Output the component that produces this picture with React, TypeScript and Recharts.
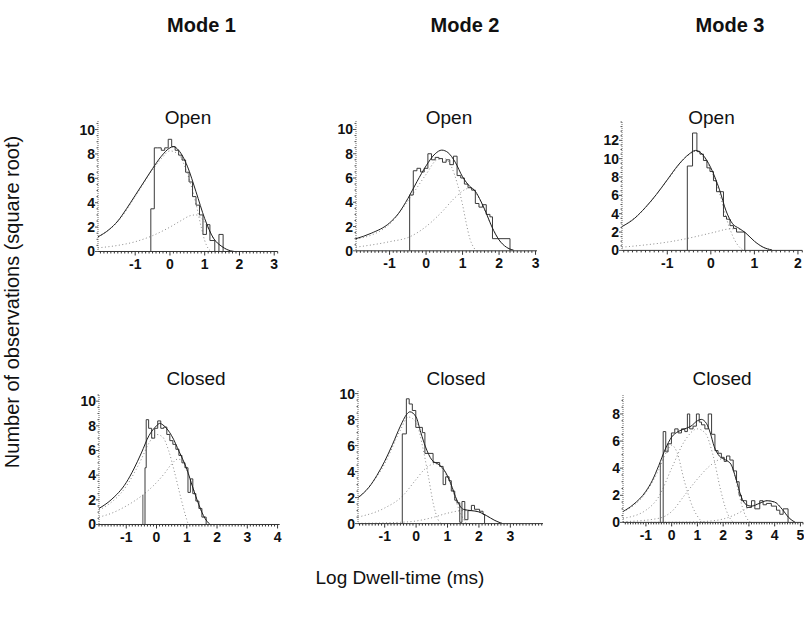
import React from 'react';
import { ComposedChart, Line, XAxis, YAxis } from 'recharts';

type Pt = [number, number];

const FONT = '"Liberation Sans", Arial, Helvetica, sans-serif';

// ---------- column / row labels ----------
const modeLabels = ['Mode 1', 'Mode 2', 'Mode 3'];
const rowLabels = ['Open', 'Closed'];
const yAxisTitle = 'Number of observations (square root)';
const xAxisTitle = 'Log Dwell-time (ms)';

// ---------- tick labels ----------
const m1OpenXTicks = [-1, 0, 1, 2, 3];
const m2OpenXTicks = [-1, 0, 1, 2, 3];
const m3OpenXTicks = [-1, 0, 1, 2];
const m1ClosedXTicks = [-1, 0, 1, 2, 3, 4];
const m2ClosedXTicks = [-1, 0, 1, 2, 3];
const m3ClosedXTicks = [-1, 0, 1, 2, 3, 4, 5];
const yTicks10 = [0, 2, 4, 6, 8, 10];
const yTicks12 = [0, 2, 4, 6, 8, 10, 12];
const yTicks8 = [0, 2, 4, 6, 8];

// ---------- Mode 1, open ----------
const m1OpenEdges = [-0.55, -0.45, -0.35, -0.25, -0.15, -0.05, 0.05, 0.15, 0.25, 0.35, 0.45, 0.55, 0.65, 0.75, 0.85, 0.95, 1.05, 1.15, 1.29, 1.41, 1.53];
const m1OpenCounts = [3.5, 8.5, 8.5, 8.3, 8.5, 9.2, 8.6, 8.3, 7.9, 7.5, 6.5, 5.7, 4.5, 3.8, 3.0, 1.4, 2.2, 0.9, 0, 1.4];
const m1OpenFit: Pt[] = [[-2.07, 1.2], [-1.75, 1.8], [-1.5, 2.5], [-1.25, 3.5], [-1, 4.6], [-0.75, 5.7], [-0.5, 6.8], [-0.25, 7.8], [0, 8.5], [0.1, 8.6], [0.25, 8.3], [0.5, 7.0], [0.75, 4.9], [1, 2.7], [1.25, 1.1], [1.5, 0.4], [1.75, 0.05], [1.85, 0]];
const m1OpenComp1: Pt[] = [[-2.07, 1.18], [-1.5, 2.45], [-1, 4.5], [-0.5, 6.7], [-0.25, 7.6], [0, 8.25], [0.25, 7.95], [0.5, 6.4], [0.75, 3.9], [0.9, 2.0], [1.0, 0.9], [1.1, 0.25], [1.2, 0]];
const m1OpenComp2: Pt[] = [[-2.07, 0.3], [-1.5, 0.5], [-1, 0.8], [-0.5, 1.3], [0, 2.0], [0.3, 2.5], [0.6, 2.95], [0.75, 3.0], [0.95, 2.6], [1.1, 1.9], [1.25, 1.1], [1.5, 0.4], [1.75, 0.05]];

// ---------- Mode 2, open ----------
const m2OpenEdges = [-0.45, -0.35, -0.25, -0.15, -0.05, 0.05, 0.15, 0.25, 0.35, 0.45, 0.55, 0.65, 0.75, 0.85, 0.95, 1.05, 1.15, 1.25, 1.35, 1.45, 1.55, 1.65, 1.75, 1.82, 2.3];
const m2OpenCounts = [4.6, 6.6, 6.8, 6.5, 6.8, 8.0, 7.5, 7.7, 7.6, 7.3, 7.5, 7.1, 7.8, 6.2, 6.0, 5.5, 5.2, 5.0, 3.9, 3.6, 3.8, 3.0, 2.8, 1.0];
const m2OpenFit: Pt[] = [[-1.92, 1.0], [-1.5, 1.45], [-1, 2.3], [-0.75, 3.1], [-0.5, 4.3], [-0.25, 5.7], [0, 7.0], [0.25, 8.0], [0.43, 8.3], [0.6, 8.1], [0.8, 7.3], [1.0, 6.1], [1.2, 5.3], [1.35, 4.9], [1.5, 4.1], [1.65, 3.1], [1.8, 2.0], [2.0, 0.9], [2.2, 0.3], [2.4, 0.05]];
const m2OpenComp1: Pt[] = [[-1.92, 0.95], [-1, 2.2], [-0.5, 4.1], [0, 6.3], [0.3, 7.5], [0.5, 7.6], [0.7, 6.9], [0.85, 5.6], [1.0, 3.8], [1.1, 2.3], [1.2, 1.0], [1.3, 0.3], [1.38, 0]];
const m2OpenComp2: Pt[] = [[-1.92, 0.3], [-1, 0.75], [-0.45, 1.15], [0, 2.0], [0.4, 3.1], [0.8, 4.4], [1.1, 5.1], [1.25, 5.2], [1.4, 4.6], [1.6, 3.4], [1.8, 2.0], [2.0, 0.9], [2.2, 0.3], [2.4, 0.05]];

// ---------- Mode 3, open ----------
const m3OpenEdges = [-0.54, -0.42, -0.32, -0.25, -0.17, -0.09, -0.02, 0.06, 0.13, 0.21, 0.29, 0.36, 0.44, 0.52, 0.59, 0.78];
const m3OpenCounts = [9.2, 12.8, 10.8, 10.5, 9.8, 9.0, 8.6, 7.6, 6.4, 6.4, 3.7, 3.4, 2.7, 2.4, 2.0];
const m3OpenFit: Pt[] = [[-2.04, 2.6], [-1.75, 3.5], [-1.5, 4.7], [-1.25, 6.1], [-1, 7.7], [-0.75, 9.3], [-0.5, 10.5], [-0.35, 10.9], [-0.2, 10.5], [0, 9.0], [0.2, 6.6], [0.35, 4.3], [0.5, 2.9], [0.65, 2.4], [0.8, 1.9], [1.0, 1.0], [1.2, 0.35], [1.4, 0.05]];
const m3OpenComp1: Pt[] = [[-2.04, 2.55], [-1.5, 4.65], [-1, 7.65], [-0.5, 10.45], [-0.35, 10.8], [-0.2, 10.35], [0, 8.8], [0.2, 6.2], [0.35, 3.6], [0.5, 1.6], [0.6, 0.7], [0.75, 0]];
const m3OpenComp2: Pt[] = [[-2.04, 0.35], [-1.5, 0.6], [-1, 0.9], [-0.54, 1.3], [-0.17, 1.7], [0.1, 2.0], [0.36, 2.3], [0.5, 2.35], [0.65, 2.3], [0.8, 1.9], [1.0, 1.0], [1.2, 0.35], [1.4, 0.05]];

// ---------- Mode 1, closed ----------
const m1ClosedEdges = [-0.38, -0.34, -0.26, -0.16, -0.06, 0.04, 0.14, 0.24, 0.34, 0.44, 0.54, 0.64, 0.74, 0.84, 0.94, 1.04, 1.12, 1.2, 1.3, 1.4, 1.5, 1.64];
const m1ClosedCounts = [4.6, 8.5, 7.8, 7.0, 7.8, 8.4, 7.8, 7.9, 7.3, 6.8, 6.5, 6.1, 5.6, 5.0, 4.6, 2.6, 3.7, 2.5, 1.9, 1.3, 0.6];
const m1ClosedFit: Pt[] = [[-1.9, 1.3], [-1.5, 2.0], [-1, 3.4], [-0.75, 4.5], [-0.5, 5.8], [-0.25, 7.2], [0, 8.0], [0.1, 8.2], [0.25, 8.0], [0.5, 7.2], [0.75, 5.9], [1, 4.5], [1.2, 3.0], [1.4, 1.6], [1.6, 0.5], [1.75, 0.05]];
const m1ClosedComp1: Pt[] = [[-1.9, 1.15], [-1, 3.1], [-0.5, 5.3], [-0.25, 6.6], [0, 7.3], [0.2, 7.1], [0.4, 6.0], [0.6, 4.2], [0.8, 2.2], [0.95, 0.8], [1.05, 0]];
const m1ClosedComp2: Pt[] = [[-1.9, 0.6], [-1.5, 0.9], [-1, 1.5], [-0.45, 2.4], [0, 3.4], [0.25, 4.1], [0.5, 4.9], [0.7, 5.3], [0.85, 5.2], [1.0, 4.4], [1.2, 3.0], [1.4, 1.6], [1.6, 0.5], [1.75, 0.05]];
const m1ClosedCut: Pt[] = [[-0.45, 0], [-0.45, 2.4]];

// ---------- Mode 2, closed ----------
const m2ClosedEdges = [-0.44, -0.31, -0.22, -0.12, -0.01, 0.2, 0.28, 0.54, 0.75, 0.86, 0.94, 1.05, 1.12, 1.23, 1.3, 1.39, 1.46, 1.55, 1.65, 1.76, 1.86, 2.02, 2.13, 2.18];
const m2ClosedCounts = [6.9, 9.6, 9.2, 8.7, 7.4, 7.0, 5.4, 4.7, 4.4, 3.0, 3.6, 3.3, 2.5, 1.8, 1.6, 0.1, 1.7, 0.3, 1.0, 1.4, 1.1, 0.95, 0.7];
const m2ClosedFit: Pt[] = [[-1.85, 2.0], [-1.5, 2.8], [-1.25, 3.7], [-1, 4.8], [-0.75, 6.1], [-0.5, 7.5], [-0.3, 8.4], [-0.2, 8.6], [0, 8.2], [0.15, 7.0], [0.3, 5.9], [0.5, 4.9], [0.75, 4.5], [0.9, 4.1], [1.1, 3.1], [1.3, 1.8], [1.5, 1.1], [1.75, 1.0], [2, 0.9], [2.25, 0.6], [2.5, 0.25], [2.75, 0]];
const m2ClosedComp1: Pt[] = [[-1.85, 1.9], [-1, 4.6], [-0.5, 7.2], [-0.25, 8.2], [0, 7.8], [0.2, 6.0], [0.4, 3.5], [0.55, 1.5], [0.7, 0.3], [0.8, 0]];
const m2ClosedComp2: Pt[] = [[-1.85, 0.5], [-1, 1.2], [-0.44, 2.1], [0, 3.4], [0.28, 4.2], [0.6, 4.6], [0.9, 4.0], [1.1, 3.0], [1.3, 1.5], [1.45, 0.6], [1.6, 0]];
const m2ClosedComp3: Pt[] = [[-1.85, 0.02], [-0.5, 0.1], [0, 0.2], [0.5, 0.45], [1, 0.8], [1.5, 1.0], [1.8, 1.0], [2, 0.9], [2.25, 0.6], [2.5, 0.25], [2.75, 0]];

// ---------- Mode 3, closed ----------
const m3ClosedEdges = [-0.33, -0.23, -0.14, -0.01, 0.12, 0.25, 0.38, 0.51, 0.61, 0.70, 0.83, 0.96, 1.07, 1.16, 1.29, 1.42, 1.55, 1.68, 1.80, 1.93, 2.04, 2.13, 2.26, 2.39, 2.52, 2.62, 2.71, 2.91, 3.10, 3.23, 3.42, 3.55, 3.68, 3.87, 4.07, 4.20, 4.33, 4.52];
const m3ClosedCounts = [6.7, 5.2, 5.8, 6.6, 6.9, 6.6, 6.9, 6.7, 8.0, 6.9, 7.1, 8.0, 7.4, 7.2, 6.9, 8.0, 6.5, 5.3, 5.1, 4.8, 4.5, 4.9, 4.6, 3.8, 3.0, 2.0, 1.6, 1.1, 1.6, 1.0, 1.6, 1.3, 1.4, 1.2, 0.9, 0.6, 1.0];
const m3ClosedFit: Pt[] = [[-1.89, 0.8], [-1.5, 1.3], [-1, 2.3], [-0.75, 3.1], [-0.5, 4.2], [-0.25, 5.4], [0, 6.3], [0.25, 6.7], [0.5, 6.9], [0.75, 7.1], [1, 7.5], [1.15, 7.6], [1.35, 7.3], [1.5, 6.6], [1.65, 5.6], [1.85, 4.9], [2.1, 4.6], [2.3, 4.3], [2.5, 3.2], [2.7, 1.9], [2.9, 1.3], [3.1, 1.2], [3.4, 1.4], [3.7, 1.6], [4, 1.5], [4.3, 0.95], [4.55, 0.35], [4.8, 0]];
const m3ClosedComp1: Pt[] = [[-1.89, 0.78], [-1, 2.2], [-0.5, 3.9], [-0.2, 5.2], [0, 5.7], [0.2, 5.2], [0.5, 3.0], [0.8, 1.2], [1.1, 0.2], [1.2, 0]];
const m3ClosedComp2: Pt[] = [[-1.89, 0.3], [-1, 0.9], [-0.5, 1.9], [0, 4.0], [0.5, 6.0], [1, 6.9], [1.3, 6.6], [1.6, 5.0], [1.9, 2.4], [2.1, 1.0], [2.3, 0.2], [2.4, 0]];
const m3ClosedComp3: Pt[] = [[-1.89, 0.05], [-0.5, 0.3], [0, 0.8], [0.5, 2.0], [1, 3.2], [1.5, 4.2], [2, 4.7], [2.2, 4.5], [2.4, 3.8], [2.6, 2.2], [2.8, 0.8], [3, 0.1], [3.1, 0]];
const m3ClosedComp4: Pt[] = [[-1.89, 0], [0.5, 0.02], [1.5, 0.1], [2, 0.25], [2.5, 0.6], [2.8, 0.9], [3.1, 1.2], [3.4, 1.4], [3.7, 1.6], [4, 1.5], [4.3, 0.95], [4.55, 0.35], [4.8, 0]];
const m3ClosedCut: Pt[] = [[-0.44, 0], [-0.44, 4.4]];

// ---------- helpers ----------
const toRows = (pts: Pt[]) => pts.map(([x, y]) => ({ x, y }));

const stepRows = (edges: number[], counts: number[]) => {
  const rows = [{ x: edges[0], y: 0 }];
  counts.forEach((c, i) => rows.push({ x: edges[i], y: c }));
  rows.push({ x: edges[edges.length - 1], y: 0 });
  return rows;
};

const gridTicks = (lo: number, hi: number, step: number) => {
  const out: number[] = [];
  const a = Math.ceil(lo / step - 1e-9);
  const b = Math.floor(hi / step + 1e-9);
  for (let i = a; i <= b; i++) out.push(Math.round(i * step * 1000) / 1000);
  return out;
};

const isIn = (list: number[], v: number) => list.some((m) => Math.abs(m - v) < 1e-6);

const makeXTick = (major: number[]) => (props: any) => {
  const { x, y, payload } = props;
  const v = payload.value;
  const big = isIn(major, v);
  return (
    <g>
      <line x1={x} x2={x} y1={y} y2={y + (big ? 4 : 2)} stroke="#333" strokeWidth={1} />
      {big && (
        <text x={x} y={y + 17.5} textAnchor="middle" fontFamily={FONT} fontSize={14} fontWeight="bold" fill="#111">
          {v}
        </text>
      )}
    </g>
  );
};

const makeYTick = (major: number[]) => (props: any) => {
  const { x, y, payload } = props;
  const v = payload.value;
  const big = isIn(major, v);
  return (
    <g>
      <line x1={x} x2={x - (big ? 3 : 1.5)} y1={y} y2={y} stroke="#555" strokeWidth={1} />
      {big && (
        <text x={x - 3} y={y + 5} textAnchor="end" fontFamily={FONT} fontSize={14} fontWeight="bold" fill="#111">
          {v}
        </text>
      )}
    </g>
  );
};

type Panel = {
  key: string;
  plotLeft: number;
  plotRight: number;
  plotTop: number;
  plotBottom: number;
  xDomain: [number, number];
  yMax: number;
  xTicks: number[];
  yTicks: number[];
  edges: number[];
  counts: number[];
  fit: Pt[];
  comps: Pt[][];
  cut?: Pt[];
};

const panels: Panel[] = [
  { key: 'm1o', plotLeft: 98.3, plotRight: 278, plotTop: 120.5, plotBottom: 251, xDomain: [-2.07, 3.1], yMax: 10.7, xTicks: m1OpenXTicks, yTicks: yTicks10, edges: m1OpenEdges, counts: m1OpenCounts, fit: m1OpenFit, comps: [m1OpenComp1, m1OpenComp2] },
  { key: 'm2o', plotLeft: 355.7, plotRight: 536.7, plotTop: 120.9, plotBottom: 250.7, xDomain: [-1.92, 3.04], yMax: 10.7, xTicks: m2OpenXTicks, yTicks: yTicks10, edges: m2OpenEdges, counts: m2OpenCounts, fit: m2OpenFit, comps: [m2OpenComp1, m2OpenComp2] },
  { key: 'm3o', plotLeft: 621.7, plotRight: 802, plotTop: 121.6, plotBottom: 250, xDomain: [-2.04, 2.1], yMax: 14, xTicks: m3OpenXTicks, yTicks: yTicks12, edges: m3OpenEdges, counts: m3OpenCounts, fit: m3OpenFit, comps: [m3OpenComp1, m3OpenComp2] },
  { key: 'm1c', plotLeft: 99.3, plotRight: 280, plotTop: 394.5, plotBottom: 524, xDomain: [-1.9, 4.07], yMax: 10.5, xTicks: m1ClosedXTicks, yTicks: yTicks10, edges: m1ClosedEdges, counts: m1ClosedCounts, fit: m1ClosedFit, comps: [m1ClosedComp1, m1ClosedComp2], cut: m1ClosedCut },
  { key: 'm2c', plotLeft: 358.3, plotRight: 543.3, plotTop: 390.7, plotBottom: 523.3, xDomain: [-1.85, 4.04], yMax: 10.2, xTicks: m2ClosedXTicks, yTicks: yTicks10, edges: m2ClosedEdges, counts: m2ClosedCounts, fit: m2ClosedFit, comps: [m2ClosedComp1, m2ClosedComp2, m2ClosedComp3] },
  { key: 'm3c', plotLeft: 623.3, plotRight: 803.3, plotTop: 395.3, plotBottom: 522.7, xDomain: [-1.89, 5.1], yMax: 9.4, xTicks: m3ClosedXTicks, yTicks: yTicks8, edges: m3ClosedEdges, counts: m3ClosedCounts, fit: m3ClosedFit, comps: [m3ClosedComp1, m3ClosedComp2, m3ClosedComp3, m3ClosedComp4], cut: m3ClosedCut },
];

const YW = 30;
const XH = 30;
const MT = 6;
const MR = 12;

const PanelChart = ({ p }: { p: Panel }) => {
  const plotW = p.plotRight - p.plotLeft;
  const plotH = p.plotBottom - p.plotTop;
  const W = YW + plotW + MR;
  const H = MT + plotH + XH;
  const xAll = Array.from(new Set([...gridTicks(p.xDomain[0], p.xDomain[1], 0.1), ...p.xTicks])).sort((a, b) => a - b);
  const yAll = Array.from(new Set([...gridTicks(0, p.yMax, 0.5), ...p.yTicks])).sort((a, b) => a - b);
  return (
    <div style={{ position: 'absolute', left: p.plotLeft - YW, top: p.plotTop - MT, width: W, height: H }}>
      <ComposedChart width={W} height={H} margin={{ top: MT, right: MR, bottom: 0, left: 0 }}>
        <XAxis
          type="number"
          dataKey="x"
          domain={p.xDomain}
          allowDataOverflow
          ticks={xAll}
          interval={0}
          tickSize={0}
          tickMargin={0}
          tickLine={false}
          height={XH}
          axisLine={{ stroke: '#333', strokeWidth: 1 }}
          tick={makeXTick(p.xTicks)}
        />
        <YAxis
          type="number"
          domain={[0, p.yMax]}
          allowDataOverflow
          ticks={yAll}
          interval={0}
          tickSize={0}
          tickMargin={0}
          tickLine={false}
          width={YW}
          axisLine={{ stroke: '#666', strokeWidth: 1, strokeDasharray: '1 1' }}
          tick={makeYTick(p.yTicks)}
        />
        {p.comps.map((c, i) => (
          <Line
            key={'c' + i}
            data={toRows(c)}
            dataKey="y"
            type="monotone"
            stroke="#8a8a8a"
            strokeWidth={1}
            strokeDasharray="1 2.5"
            dot={false}
            activeDot={false}
            isAnimationActive={false}
          />
        ))}
        {p.cut && (
          <Line data={toRows(p.cut)} dataKey="y" type="linear" stroke="#555" strokeWidth={1} dot={false} activeDot={false} isAnimationActive={false} />
        )}
        <Line
          data={stepRows(p.edges, p.counts)}
          dataKey="y"
          type="stepAfter"
          stroke="#3a3a3a"
          strokeWidth={1}
          dot={false}
          activeDot={false}
          isAnimationActive={false}
        />
        <Line
          data={toRows(p.fit)}
          dataKey="y"
          type="monotone"
          stroke="#1e1e1e"
          strokeWidth={1}
          dot={false}
          activeDot={false}
          isAnimationActive={false}
        />
      </ComposedChart>
    </div>
  );
};

const modeX = [201.5, 465, 730];
const openTitleX = [188, 449, 711.5];
const closedTitleX = [196, 456, 722];

export default function App() {
  return (
    <div style={{ position: 'absolute', left: 0, top: 0, width: 804, height: 618, background: '#fff', overflow: 'hidden' }}>
      {panels.map((p) => (
        <PanelChart key={p.key} p={p} />
      ))}
      <svg width={804} height={618} style={{ position: 'absolute', left: 0, top: 0, pointerEvents: 'none' }}>
        {modeLabels.map((m, i) => (
          <text key={m} x={modeX[i]} y={31.5} textAnchor="middle" fontFamily={FONT} fontSize={20} fontWeight="bold" fill="#111">
            {m}
          </text>
        ))}
        {openTitleX.map((x, i) => (
          <text key={'o' + i} x={x} y={124} textAnchor="middle" fontFamily={FONT} fontSize={19} fill="#111">
            {rowLabels[0]}
          </text>
        ))}
        {closedTitleX.map((x, i) => (
          <text key={'c' + i} x={x} y={385} textAnchor="middle" fontFamily={FONT} fontSize={19} fill="#111">
            {rowLabels[1]}
          </text>
        ))}
        <text transform="translate(19,302) rotate(-90)" x={0} y={0} textAnchor="middle" fontFamily={FONT} fontSize={20} fill="#111">
          {yAxisTitle}
        </text>
        <text x={400} y={584} textAnchor="middle" fontFamily={FONT} fontSize={19} fill="#111">
          {xAxisTitle}
        </text>
      </svg>
    </div>
  );
}
